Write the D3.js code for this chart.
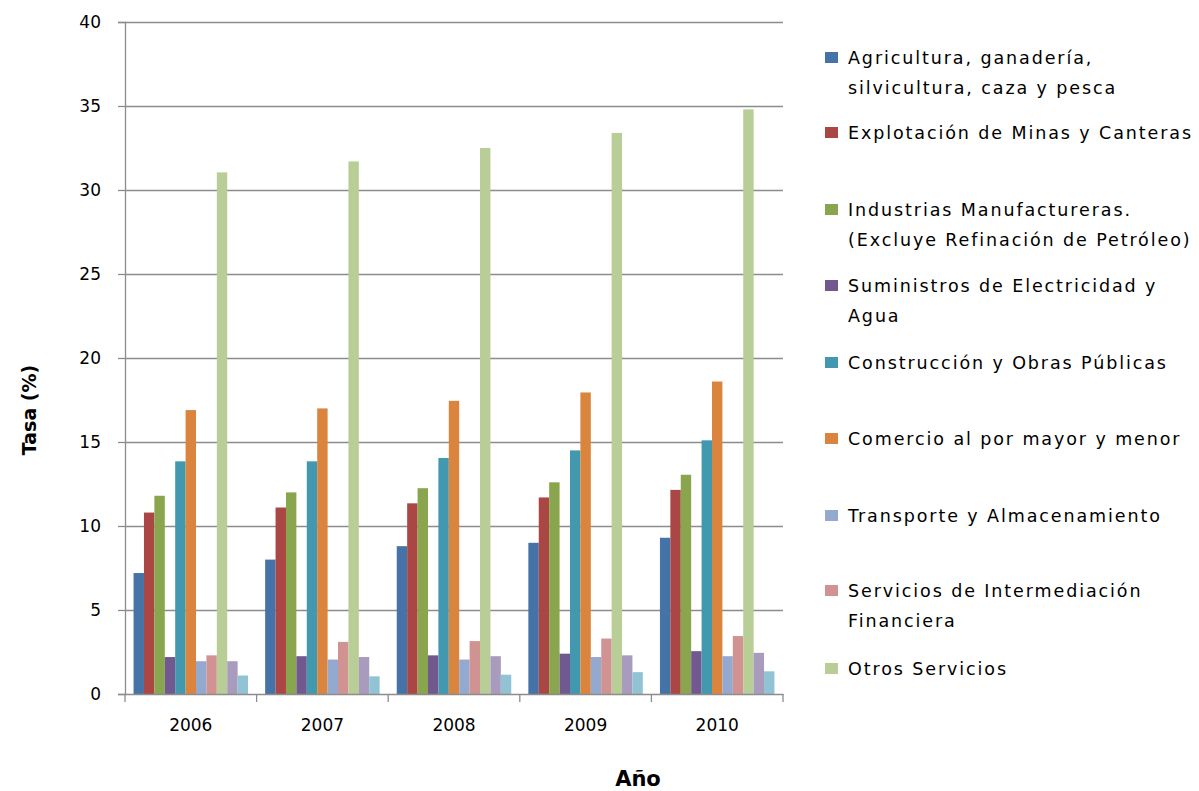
<!DOCTYPE html>
<html lang="es">
<head>
<meta charset="UTF-8">
<title>Tasa por sector</title>
<script src="https://cdn.jsdelivr.net/npm/d3@7"></script>
<style>
  body { margin: 0; background: #fff; }
  svg { display: block; font-family: "DejaVu Sans", Verdana, sans-serif; }
</style>
</head>
<body>
<svg id="chart" width="1199" height="791"></svg>
<script>
// años y series
var years = ["2006", "2007", "2008", "2009", "2010"];

var agricultura  = [7.2, 8.0, 8.8, 9.0, 9.3];
var explotacion  = [10.8, 11.1, 11.35, 11.7, 12.15];
var industrias   = [11.8, 12.0, 12.25, 12.6, 13.05];
var suministros  = [2.2, 2.25, 2.3, 2.4, 2.55];
var construccion = [13.85, 13.85, 14.05, 14.5, 15.1];
var comercio     = [16.9, 17.0, 17.45, 17.95, 18.6];
var transporte   = [1.95, 2.05, 2.05, 2.2, 2.25];
var servicios    = [2.3, 3.1, 3.15, 3.3, 3.45];
var otros        = [31.05, 31.7, 32.5, 33.4, 34.8];
var serie10      = [1.95, 2.2, 2.25, 2.3, 2.45];
var serie11      = [1.1, 1.05, 1.15, 1.3, 1.35];

var seriesNames = ["agricultura", "explotacion", "industrias", "suministros", "construccion",
    "comercio", "transporte", "servicios", "otros", "serie10", "serie11"];
var seriesValues = [agricultura, explotacion, industrias, suministros, construccion,
    comercio, transporte, servicios, otros, serie10, serie11];

var colors = {
    agricultura: "#4572A7", explotacion: "#AA4643", industrias: "#89A54E",
    suministros: "#71588F", construccion: "#4198AF", comercio: "#DB843D",
    transporte: "#93A9CF", servicios: "#D19392", otros: "#B9CD96",
    serie10: "#A99BBD", serie11: "#92C3D4"
};

// leyenda (solo 9 entradas visibles)
var legendKeys = ["agricultura", "explotacion", "industrias", "suministros", "construccion",
    "comercio", "transporte", "servicios", "otros"];
var legendLabels = [
    ["Agricultura, ganadería,", "silvicultura, caza y pesca"],
    ["Explotación de Minas y Canteras"],
    ["Industrias Manufactureras.", "(Excluye Refinación de Petróleo)"],
    ["Suministros de Electricidad y", "Agua"],
    ["Construcción y Obras Públicas"],
    ["Comercio al por mayor y menor"],
    ["Transporte y Almacenamiento"],
    ["Servicios de Intermediación", "Financiera"],
    ["Otros Servicios"]
];

var yTicks = [0, 5, 10, 15, 20, 25, 30, 35, 40];

var svg = d3.select("#chart");
var plotLeft = 125, plotRight = 783, plotTop = 22, plotBottom = 694;
var gridColor = "#8c8c8c";

var x0 = d3.scaleBand()
    .domain(years)
    .range([plotLeft, plotRight])
    .paddingInner(0.13)
    .paddingOuter(0.065);

var x1 = d3.scaleBand()
    .domain(seriesNames)
    .range([0, x0.bandwidth()]);

var y = d3.scaleLinear()
    .domain([0, 40])
    .range([plotBottom, plotTop]);

// rejilla
svg.append("g")
    .selectAll("line")
    .data(yTicks.filter(d => d > 0))
    .enter()
    .append("line")
    .attr("x1", plotLeft)
    .attr("x2", plotRight)
    .attr("y1", d => Math.round(y(d)) + 0.5)
    .attr("y2", d => Math.round(y(d)) + 0.5)
    .attr("stroke", gridColor)
    .attr("stroke-width", 1.3);

// barras
var groups = svg.append("g")
    .selectAll("g")
    .data(years)
    .enter()
    .append("g")
    .attr("transform", d => `translate(${x0(d)},0)`);

groups.selectAll("rect")
    .data((yr, i) => seriesNames.map((k, s) => ({ key: k, value: seriesValues[s][i] })))
    .enter()
    .append("rect")
    .attr("x", d => x1(d.key))
    .attr("width", x1.bandwidth())
    .attr("y", d => y(d.value))
    .attr("height", d => y(0) - y(d.value))
    .attr("fill", d => colors[d.key]);

// eje y
var yAxis = svg.append("g")
    .attr("transform", `translate(${plotLeft},0)`)
    .call(d3.axisLeft(y).tickValues(yTicks).tickSize(7).tickPadding(17));
yAxis.select(".domain").attr("stroke", gridColor).attr("stroke-width", 1.3);
yAxis.selectAll(".tick line").attr("stroke", gridColor).attr("stroke-width", 1.3);
yAxis.selectAll(".tick text")
    .style("font-size", "17px")
    .style("font-family", "'DejaVu Sans', sans-serif")
    .attr("fill", "#000");

// eje x
var xAxis = svg.append("g")
    .attr("transform", `translate(0,${plotBottom})`)
    .call(d3.axisBottom(x0).tickSize(0).tickPadding(25));
xAxis.select(".domain").attr("stroke", gridColor).attr("stroke-width", 1.3);
xAxis.selectAll(".tick text")
    .style("font-size", "17px")
    .style("font-family", "'DejaVu Sans', sans-serif")
    .attr("fill", "#000");

// marcas entre categorías
var step = x0.step();
svg.append("g")
    .selectAll("line")
    .data(d3.range(years.length + 1))
    .enter()
    .append("line")
    .attr("x1", i => plotLeft + i * step)
    .attr("x2", i => plotLeft + i * step)
    .attr("y1", plotBottom)
    .attr("y2", plotBottom + 8)
    .attr("stroke", gridColor)
    .attr("stroke-width", 1.3);

// títulos de ejes
svg.append("text")
    .attr("x", 638)
    .attr("y", 786)
    .attr("text-anchor", "middle")
    .style("font-size", "21px")
    .style("font-weight", "bold")
    .text("Año");

svg.append("text")
    .attr("transform", "translate(36,410) rotate(-90)")
    .attr("text-anchor", "middle")
    .style("font-size", "19px")
    .style("font-weight", "bold")
    .text("Tasa (%)");

// leyenda
var legend = svg.append("g").attr("transform", "translate(825,0)");
var legendY = [58, 133, 210, 286, 363, 439, 516, 591, 669];

var items = legend.selectAll("g")
    .data(legendKeys)
    .enter()
    .append("g")
    .attr("transform", (d, i) => `translate(0,${legendY[i]})`);

items.append("rect")
    .attr("x", 0)
    .attr("y", -6)
    .attr("width", 13)
    .attr("height", 11)
    .attr("fill", d => colors[d]);

items.each(function (d, i) {
    var t = d3.select(this).append("text")
        .attr("x", 23)
        .attr("y", 6)
        .style("font-size", "17.5px")
        .style("letter-spacing", "1.9px")
        .attr("fill", "#000");
    legendLabels[i].forEach((line, j) => {
        t.append("tspan")
            .attr("x", 23)
            .attr("dy", j === 0 ? 0 : 30)
            .text(line);
    });
});
</script>
</body>
</html>
